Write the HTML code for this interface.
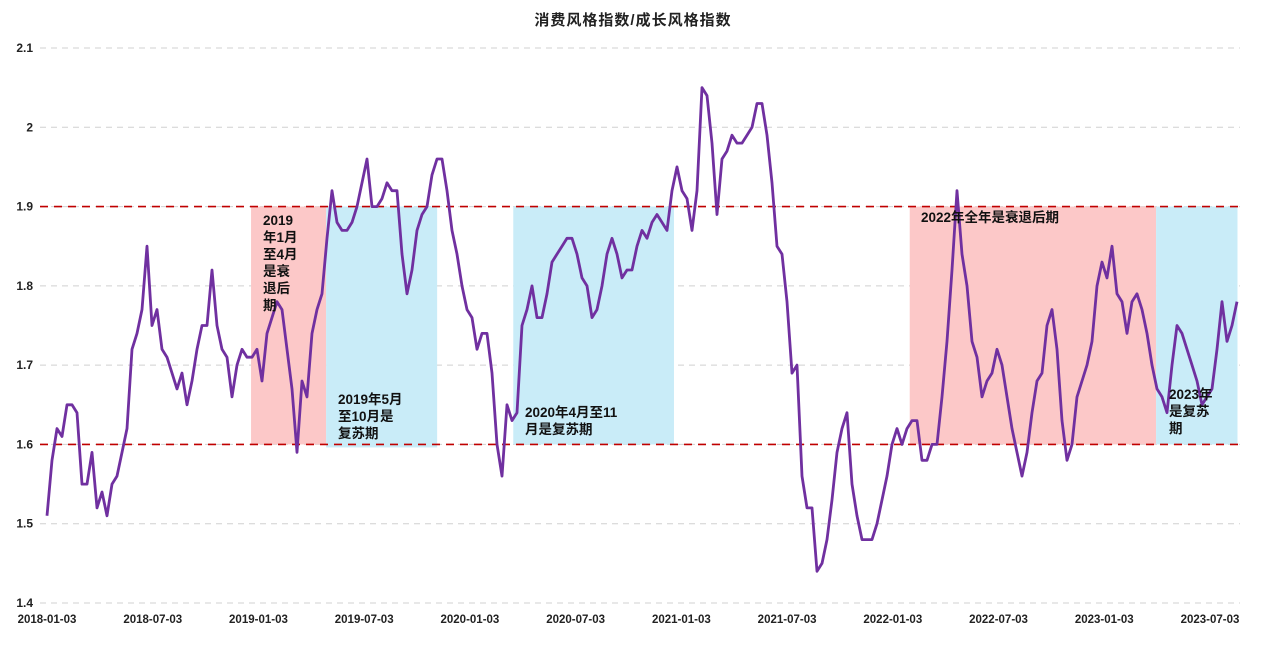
<!DOCTYPE html>
<html><head><meta charset="utf-8"><style>
body{margin:0;background:#fff;}
svg text{font-family:"Liberation Sans","Noto Sans CJK SC",sans-serif;}
</style></head><body>
<svg id="chart" width="1267" height="650" xmlns="http://www.w3.org/2000/svg">
<text x="633" y="25" text-anchor="middle" font-size="15" font-weight="bold" fill="#222" letter-spacing="1">消费风格指数/成长风格指数</text>
<g id="grid"></g>
<g id="bands"></g>
<g id="refs"></g>
<g id="series"></g>
<g id="notes"></g>
<g id="axes"></g>
</svg>
<script>
const yTicks=[1.4,1.5,1.6,1.7,1.8,1.9,2,2.1];
const yTickLabels=["1.4","1.5","1.6","1.7","1.8","1.9","2","2.1"];
const xTickLabels=["2018-01-03","2018-07-03","2019-01-03","2019-07-03","2020-01-03","2020-07-03","2021-01-03","2021-07-03","2022-01-03","2022-07-03","2023-01-03","2023-07-03"];
const refLevels=[1.9,1.6];
// band start/end in half-years since 2018-01-03
const bandStarts=[1.93,2.64,4.41,8.16,10.49];
const bandEnds=[2.64,3.69,5.93,10.49,11.26];
const values=[1.51,1.58,1.62,1.61,1.65,1.65,1.64,1.55,1.55,1.59,1.52,1.54,1.51,1.55,1.56,1.59,1.62,1.72,1.74,1.77,1.85,1.75,1.77,1.72,1.71,1.69,1.67,1.69,1.65,1.68,1.72,1.75,1.75,1.82,1.75,1.72,1.71,1.66,1.7,1.72,1.71,1.71,1.72,1.68,1.74,1.76,1.78,1.77,1.72,1.67,1.59,1.68,1.66,1.74,1.77,1.79,1.86,1.92,1.88,1.87,1.87,1.88,1.9,1.93,1.96,1.9,1.9,1.91,1.93,1.92,1.92,1.84,1.79,1.82,1.87,1.89,1.9,1.94,1.96,1.96,1.92,1.87,1.84,1.8,1.77,1.76,1.72,1.74,1.74,1.69,1.6,1.56,1.65,1.63,1.64,1.75,1.77,1.8,1.76,1.76,1.79,1.83,1.84,1.85,1.86,1.86,1.84,1.81,1.8,1.76,1.77,1.8,1.84,1.86,1.84,1.81,1.82,1.82,1.85,1.87,1.86,1.88,1.89,1.88,1.87,1.92,1.95,1.92,1.91,1.87,1.92,2.05,2.04,1.98,1.89,1.96,1.97,1.99,1.98,1.98,1.99,2.0,2.03,2.03,1.99,1.93,1.85,1.84,1.78,1.69,1.7,1.56,1.52,1.52,1.44,1.45,1.48,1.53,1.59,1.62,1.64,1.55,1.51,1.48,1.48,1.48,1.5,1.53,1.56,1.6,1.62,1.6,1.62,1.63,1.63,1.58,1.58,1.6,1.6,1.66,1.73,1.82,1.92,1.84,1.8,1.73,1.71,1.66,1.68,1.69,1.72,1.7,1.66,1.62,1.59,1.56,1.59,1.64,1.68,1.69,1.75,1.77,1.72,1.63,1.58,1.6,1.66,1.68,1.7,1.73,1.8,1.83,1.81,1.85,1.79,1.78,1.74,1.78,1.79,1.77,1.74,1.7,1.67,1.66,1.64,1.7,1.75,1.74,1.72,1.7,1.68,1.65,1.66,1.67,1.72,1.78,1.73,1.75,1.78];

const NS="http://www.w3.org/2000/svg";
const X0=47,X1=1237,Y0=603,Y1=48;
function yScale(v){return Y0-(v-1.4)/(2.1-1.4)*(Y0-Y1);}
function xIdx(i){return X0+i*(X1-X0)/(values.length-1);}
function xHalfYear(k){return 47+k*(1210-47)/11;}
function mk(tag,attrs,parent){const e=document.createElementNS(NS,tag);for(const k in attrs)e.setAttribute(k,attrs[k]);parent.appendChild(e);return e;}
const grid=document.getElementById('grid'),axes=document.getElementById('axes');
yTicks.forEach((t,i)=>{
  const y=yScale(t);
  const l=mk('line',{x1:40,x2:1240,y1:y,y2:y,stroke:'#d0d0d0','stroke-width':1,'stroke-dasharray':'6,5'},grid);
  
  
  const tx=mk('text',{x:33,y:y+4,'text-anchor':'end','font-size':12,'font-weight':'bold',fill:'#222'},axes);
  tx.textContent=yTickLabels[i];
  
  
});
xTickLabels.forEach((s,k)=>{
  const tx=mk('text',{x:xHalfYear(k),y:623,'text-anchor':'middle','font-size':11.5,'font-weight':'bold',fill:'#222'},axes);
  tx.textContent=s;
  
  
});
const bands=document.getElementById('bands');
const bandColors=['#fcc8c8','#c9ecf8','#c9ecf8','#fcc8c8','#c9ecf8'];
bandStarts.forEach((s,i)=>{
  const x0=xHalfYear(s),x1=xHalfYear(bandEnds[i]);
  const r=mk('rect',{x:x0,y:yScale(1.9),width:x1-x0,height:yScale(1.6)-yScale(1.9)+(i==1?3:0),fill:bandColors[i]},bands);
  
  
});
const refs=document.getElementById('refs');
refLevels.forEach(v=>{
  const l=mk('line',{x1:40,x2:1242,y1:yScale(v),y2:yScale(v),stroke:'#c00000','stroke-width':1.6,'stroke-dasharray':'8,6'},refs);
  
  
});
const pts=values.map((v,i)=>xIdx(i).toFixed(1)+','+yScale(v).toFixed(1)).join(' ');
const pl=mk('polyline',{points:pts,fill:'none',stroke:'#7030a0','stroke-width':2.8,'stroke-linejoin':'round'},document.getElementById('series'));


const notes=document.getElementById('notes');
const noteLines=[["2019","年1月","至4月","是衰","退后","期"],["2019年5月","至10月是","复苏期"],["2020年4月至11","月是复苏期"],["2022年全年是衰退后期"],["2023年","是复苏","期"]];
const notePos=[[263,225],[338,404],[525,417],[921,222],[1169,399]];
noteLines.forEach((ls,i)=>{
  const t=mk('text',{x:notePos[i][0],y:notePos[i][1],'font-size':13.5,'font-weight':'bold',fill:'#111'},notes);
  
  
  ls.forEach((s,j)=>{const sp=mk('tspan',{x:notePos[i][0],dy:j?17:0},t);sp.textContent=s;});
});
</script>
</body></html>
